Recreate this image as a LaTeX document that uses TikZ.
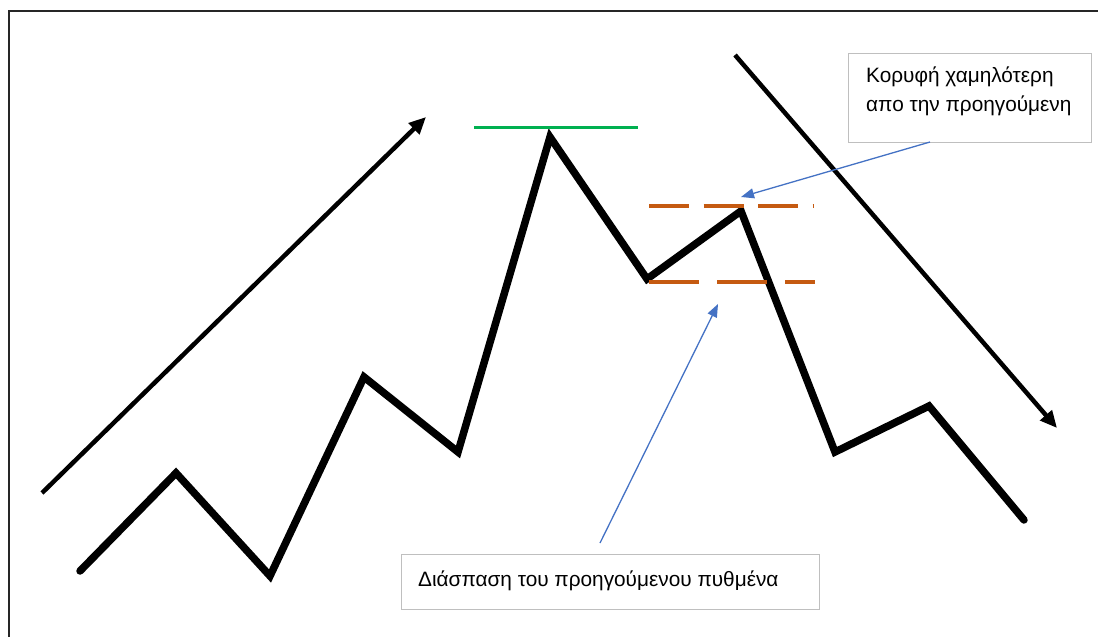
\documentclass[tikz,border=0pt]{standalone}
\usepackage{fontspec}
\setmainfont{Liberation Sans}
\usetikzlibrary{arrows.meta}
\definecolor{callblue}{HTML}{4472C4}
\definecolor{levelorange}{HTML}{C55A11}
\definecolor{topgreen}{HTML}{00B050}
\definecolor{boxgray}{HTML}{BFBFBF}
\tikzset{
  price/.style={line width=7.5pt, line join=miter, miter limit=3, line cap=round},
  trend/.style={line width=4.5pt, -{Triangle[length=17pt,width=15pt]}},
  level/.style={line width=4.2pt, levelorange},
  callout/.style={draw=boxgray, line width=1.2pt, fill=white, inner sep=0pt, anchor=north west},
  pointer/.style={callblue, line width=1.3pt, -{Triangle[length=13pt,width=10pt]}},
  label/.style={font=\fontsize{20.8}{29}\selectfont, align=left, anchor=west, inner sep=0pt}
}
\begin{document}
\begin{tikzpicture}[x=1pt,y=-1pt]
\useasboundingbox (0,0) rectangle (1098,637);
% frame
\draw[line width=1.6pt, black!85] (9,637) -- (9,11) -- (1098,11);

% price zigzag
\coordinate (p0) at (80,571);
\coordinate (p1) at (176,473);
\coordinate (p2) at (270,576);
\coordinate (p3) at (364,377);
\coordinate (p4) at (458,452);
\coordinate (p5) at (550,137);
\coordinate (p6) at (647,279);
\coordinate (p7) at (741,211);
\coordinate (p8) at (835,452);
\coordinate (p9) at (929,406);
\coordinate (p10) at (1024,520);
\draw[price] (p0) -- (p1) -- (p2) -- (p3) -- (p4) -- (p5) -- (p6) -- (p7) -- (p8) -- (p9) -- (p10);

% trend arrows
\coordinate (upS) at (42,493);
\coordinate (upE) at (426,117);
\draw[trend] (upS) -- (upE);
\coordinate (dnS) at (735,55);
\coordinate (dnE) at (1057,428);
\draw[trend] (dnS) -- (dnE);

% previous high
\coordinate (gA) at (474,127);
\coordinate (gB) at (638,127);
\draw[line width=3pt, topgreen] (gA) -- (gB);

% lower high and broken low levels
\coordinate (hA) at (649,206);
\coordinate (hB) at (814,206);
\draw[level, dash pattern=on 40pt off 14.5pt] (hA) -- (hB);
\coordinate (lA) at (649,282);
\coordinate (lB) at (815,282);
\draw[level, dash pattern=on 50pt off 18pt] (lA) -- (lB);

% callouts
\node[callout, minimum width=243pt, minimum height=89pt] (boxTop) at (848,53) {};
\node[label] (txtTop) at (866,91.5) {Κορυφή χαμηλότερη\\απο την προηγούμενη};
\node[callout, minimum width=418pt, minimum height=55pt] (boxBot) at (401,554) {};
\node[label] (txtBot) at (418,581) {Διάσπαση του προηγούμενου πυθμένα};

\coordinate (ptrTop) at (741,197);
\coordinate (ptrBot) at (718,304);
\draw[pointer] (930,142) -- (ptrTop);
\draw[pointer] (600,543) -- (ptrBot);
\end{tikzpicture}
\end{document}
